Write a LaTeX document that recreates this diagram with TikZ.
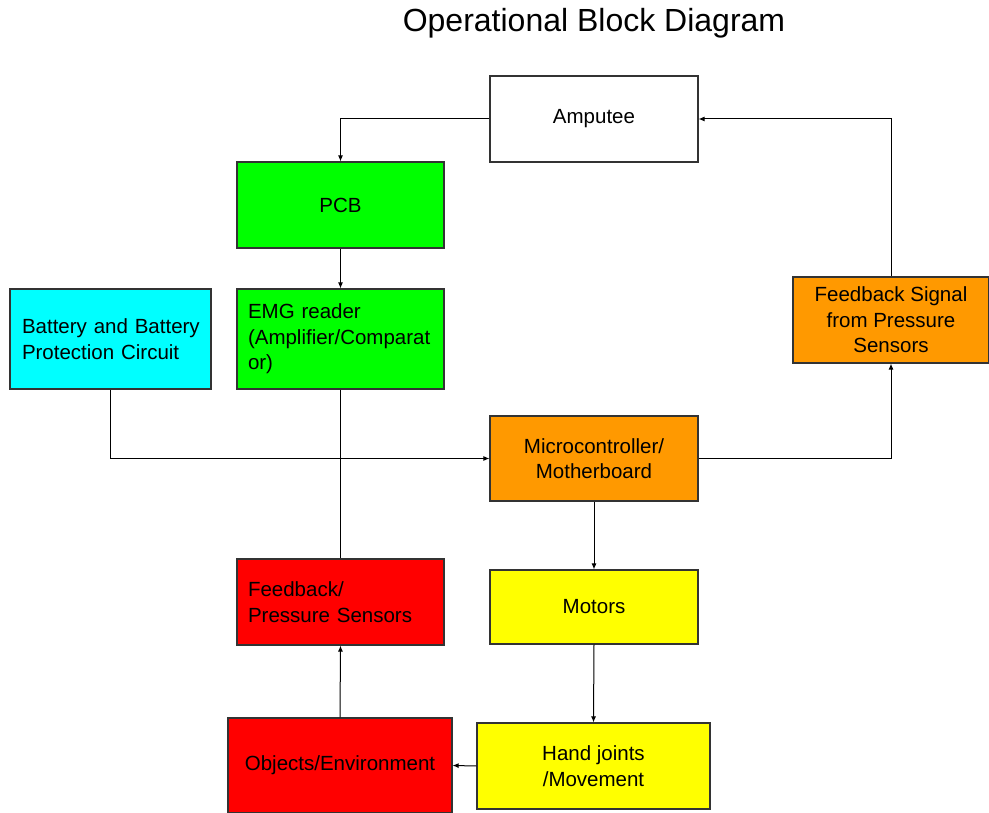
\documentclass[tikz,border=0pt]{standalone}
\usepackage{fontspec}
\setmainfont{Liberation Sans}
\usetikzlibrary{arrows.meta}
\definecolor{bgreen}{HTML}{00FF00}
\definecolor{bcyan}{HTML}{00FFFF}
\definecolor{borange}{HTML}{FF9900}
\definecolor{bred}{HTML}{FF0000}
\definecolor{byellow}{HTML}{FFFF00}
\definecolor{bline}{HTML}{333333}
\begin{document}
\begin{tikzpicture}[x=1pt,y=-1pt,
  blk/.style={draw=bline, line width=1.1pt, rectangle, inner sep=0pt,
    font=\fontsize{20.5}{25.5}\selectfont, text=black},
  conn/.style={draw=black, line width=1pt},
  arr/.style={conn, -{Latex[length=6pt,width=5pt]}}]
\useasboundingbox (0,0) rectangle (989,813);
\node[font=\fontsize{32}{36}\selectfont] (title) at (594,23) {Operational Block Diagram};
\node[blk, fill=white, minimum width=208pt, minimum height=86pt, align=center] (amp) at (594,119) {Amputee};
\node[blk, fill=bgreen, minimum width=207pt, minimum height=86pt, align=center] (pcb) at (340.5,205) {PCB};
\node[blk, fill=bgreen, minimum width=207pt, minimum height=100pt, text width=185pt, align=left] (emg) at (340.5,339) {EMG reader\\\mbox{(Amplifier/Comparat}\\or)};
\node[blk, fill=bcyan, minimum width=201pt, minimum height=100pt, text width=177pt, align=left] (bat) at (110.5,339) {\mbox{Battery and Battery}\\\mbox{Protection Circuit}};
\node[blk, fill=borange, minimum width=196pt, minimum height=86pt, align=center] (fbs) at (891,320) {Feedback Signal\\from Pressure\\Sensors};
\node[blk, fill=borange, minimum width=208pt, minimum height=85pt, align=center] (mcu) at (594,458.5) {Microcontroller/\\Motherboard};
\node[blk, fill=bred, minimum width=207pt, minimum height=86pt, text width=185pt, align=left] (fbp) at (340.5,602) {Feedback/\\Pressure Sensors};
\node[blk, fill=byellow, minimum width=208pt, minimum height=74pt, align=center] (mot) at (594,607) {Motors};
\node[blk, fill=bred, minimum width=224pt, minimum height=95pt, align=center] (obj) at (340,765.5) {Objects/Environment};
\node[blk, fill=byellow, minimum width=233pt, minimum height=86pt, align=center] (hand) at (593.5,766) {Hand joints\\/Movement};
\draw[arr] (amp.west) -| (pcb.north);
\draw[arr] (pcb.south) -- (emg.north);
\draw[conn] (emg.south) -- (fbp.north);
\draw[arr] (bat.south) |- (mcu.west);
\draw[arr] (mcu.east) -| (fbs.south);
\draw[arr] (fbs.north) |- (amp.east);
\draw[arr] (mcu.south) -- (mot.north);
\draw[arr] (mot.south) -- (hand.north);
\draw[arr] (hand.west) -- (obj.east);
\draw[arr] (obj.north) -- (fbp.south);
\end{tikzpicture}
\end{document}
